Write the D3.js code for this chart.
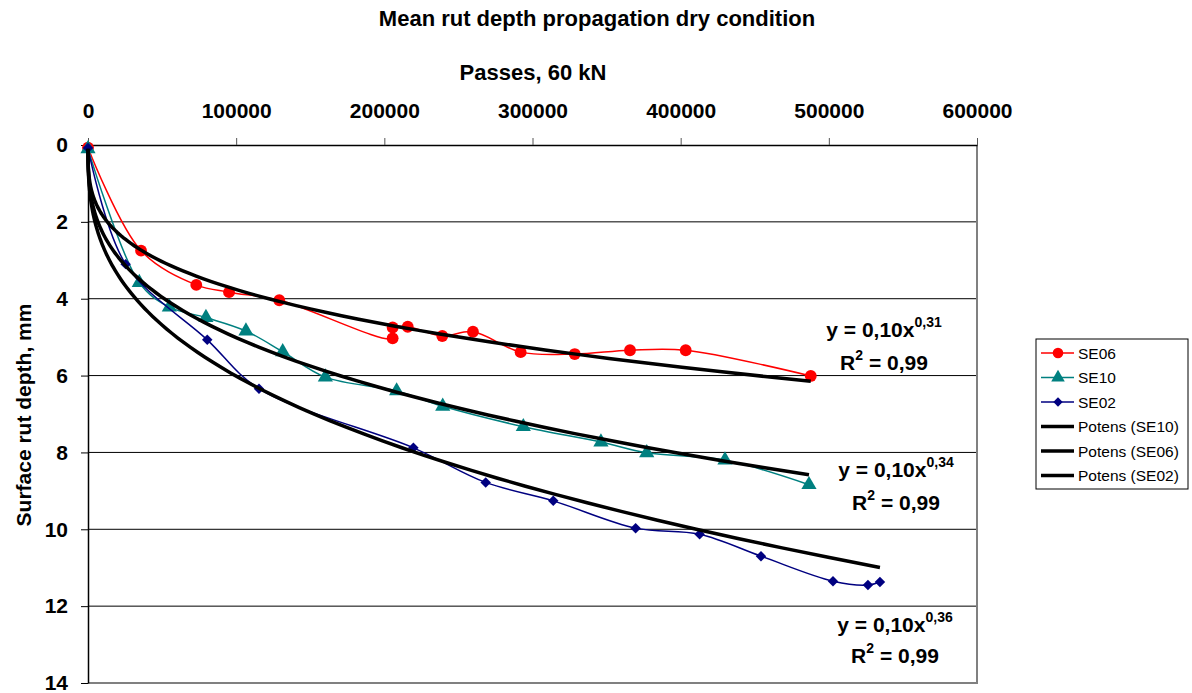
<!DOCTYPE html>
<html>
<head>
<meta charset="utf-8">
<script src="https://cdn.jsdelivr.net/npm/d3@7"></script>
<style>
  body { margin: 0; background: #fff; }
  text { font-family: "Liberation Sans", Arial, sans-serif; }
</style>
</head>
<body>
<div id="chart"></div>
<script>
// series (passes, rut depth mm)
const se06X = [0, 35800, 73100, 95200, 129100, 205600, 205600, 215800, 239100, 259800, 292000, 328500, 365800, 403400, 487800];
const se06Y = [0.07, 2.75, 3.64, 3.83, 4.04, 5.03, 4.75, 4.73, 4.97, 4.86, 5.39, 5.44, 5.34, 5.34, 6.01];

const se10X = [0, 34600, 54900, 79600, 106600, 131400, 160200, 208300, 239400, 293800, 346200, 377100, 429900, 486600];
const se10Y = [0.1, 3.58, 4.22, 4.49, 4.84, 5.38, 6.04, 6.40, 6.80, 7.33, 7.73, 8.01, 8.20, 8.84];

const se02X = [0, 25400, 80500, 115400, 219600, 268400, 314000, 369600, 412800, 454200, 502800, 526400, 534500];
const se02Y = [0.08, 3.10, 5.07, 6.34, 7.88, 8.78, 9.26, 9.97, 10.13, 10.70, 11.35, 11.45, 11.37];

// power trend lines y = a * x^b
const trendNames = ["Potens (SE10)", "Potens (SE06)", "Potens (SE02)"];
const trendA = [0.100, 0.106, 0.0953];
const trendB = [0.34, 0.31, 0.36];
const trendEnd = [486600, 487800, 534500];

const eqTexts = ["0,31", "0,34", "0,36"];
const r2Text = "0,99";

const xTicks = [0, 100000, 200000, 300000, 400000, 500000, 600000];
const yTicks = [0, 2, 4, 6, 8, 10, 12, 14];

const W = 1192, H = 693;
const plot = { left: 88, top: 145, right: 977, bottom: 683 };

const svg = d3.select("#chart").append("svg")
    .attr("width", W)
    .attr("height", H);

const x = d3.scaleLinear().domain([0, 600000]).range([plot.left, plot.right]);
const y = d3.scaleLinear().domain([0, 14]).range([plot.top, plot.bottom]);

// gridlines
svg.append("g")
    .selectAll("line")
    .data(yTicks.slice(1, -1))
    .enter().append("line")
    .attr("x1", plot.left).attr("x2", plot.right)
    .attr("y1", d => y(d)).attr("y2", d => y(d))
    .attr("stroke", "#000").attr("stroke-width", 1);

// right / bottom border (grey)
svg.append("path")
    .attr("d", `M${plot.right},${plot.top}V${plot.bottom}H${plot.left}`)
    .attr("fill", "none")
    .attr("stroke", "#808080")
    .attr("stroke-width", 2);

// axes
const xAxis = svg.append("g")
    .attr("transform", `translate(0,${plot.top})`)
    .call(d3.axisTop(x).tickValues(xTicks).tickFormat(d3.format("d")).tickSize(7).tickPadding(20).tickSizeOuter(0));
xAxis.select(".domain").attr("stroke", "#000").attr("stroke-width", 1.5);
xAxis.selectAll(".tick line").attr("stroke", "#555");
xAxis.selectAll("text")
    .style("font-size", "21px").style("font-weight", "bold").attr("fill", "#000");

const yAxis = svg.append("g")
    .attr("transform", `translate(${plot.left},0)`)
    .call(d3.axisLeft(y).tickValues(yTicks).tickSize(7).tickPadding(13).tickSizeOuter(0));
yAxis.select(".domain").attr("stroke", "#000").attr("stroke-width", 1.5);
yAxis.selectAll(".tick line").attr("stroke", "#000");
yAxis.selectAll("text")
    .style("font-size", "21px").style("font-weight", "bold").attr("fill", "#000");

// titles
svg.append("text")
    .attr("x", 597).attr("y", 26)
    .attr("text-anchor", "middle")
    .style("font-size", "22px").style("font-weight", "bold")
    .text("Mean rut depth propagation dry condition");

svg.append("text")
    .attr("x", 533).attr("y", 80)
    .attr("text-anchor", "middle")
    .style("font-size", "22px").style("font-weight", "bold")
    .text("Passes, 60 kN");

svg.append("text")
    .attr("transform", "translate(31,415) rotate(-90)")
    .attr("text-anchor", "middle")
    .style("font-size", "21px").style("font-weight", "bold")
    .text("Surface rut depth, mm");

// data series
const line = d3.line()
    .x(d => x(d[0]))
    .y(d => y(d[1]))
    .curve(d3.curveCatmullRom.alpha(0.5));

const series = [
    { name: "SE06", xs: se06X, ys: se06Y, color: "#ff0000", symbol: d3.symbolCircle, size: 110, rot: 0 },
    { name: "SE10", xs: se10X, ys: se10Y, color: "#008080", symbol: d3.symbolTriangle, size: 100, rot: 0 },
    { name: "SE02", xs: se02X, ys: se02Y, color: "#000080", symbol: d3.symbolSquare, size: 55, rot: 45 }
];

series.forEach(s => {
    const pts = s.xs.map((v, i) => [v, s.ys[i]]);
    svg.append("path")
        .datum(pts)
        .attr("fill", "none")
        .attr("stroke", s.color)
        .attr("stroke-width", 1.5)
        .attr("d", line);
    svg.append("g")
        .selectAll("path")
        .data(pts)
        .enter().append("path")
        .attr("transform", d => `translate(${x(d[0])},${y(d[1])}) rotate(${s.rot})`)
        .attr("d", d3.symbol().type(s.symbol).size(s.size))
        .attr("fill", s.color);
});

// trend lines
const trendLine = d3.line().x(d => x(d[0])).y(d => y(d[1]));
trendNames.forEach((name, i) => {
    const xs = d3.range(0, 1.0001, 0.005).map(t => Math.pow(trendEnd[i], t));
    const pts = xs.map(v => [v, trendA[i] * Math.pow(v, trendB[i])]);
    svg.append("path")
        .datum(pts)
        .attr("fill", "none")
        .attr("stroke", "#000")
        .attr("stroke-width", 3.5)
        .attr("d", trendLine);
});

// equation labels
const eqPos = [[884, 337, 370], [896, 477, 510], [895, 632, 663]];
eqTexts.forEach((e, i) => {
    const [cx, y1, y2] = eqPos[i];
    const t1 = svg.append("text")
        .attr("x", cx).attr("y", y1)
        .attr("text-anchor", "middle")
        .style("font-size", "21px").style("font-weight", "bold");
    t1.append("tspan").text("y = 0,10x");
    t1.append("tspan").attr("dy", -10).style("font-size", "14px").text(e);
    const t2 = svg.append("text")
        .attr("x", cx).attr("y", y2)
        .attr("text-anchor", "middle")
        .style("font-size", "21px").style("font-weight", "bold");
    t2.append("tspan").text("R");
    t2.append("tspan").attr("dy", -10).style("font-size", "14px").text("2");
    t2.append("tspan").attr("dy", 10).text(" = " + r2Text);
});

// legend
const legendItems = series.map(s => ({ name: s.name, color: s.color, symbol: s.symbol, size: s.size * 0.8, rot: s.rot, w: 1.5 }))
    .concat(trendNames.map(n => ({ name: n, color: "#000", symbol: null, w: 3.5 })));

const legend = svg.append("g").attr("transform", "translate(1036,339)");
legend.append("rect")
    .attr("width", 152).attr("height", 150)
    .attr("fill", "#fff").attr("stroke", "#000").attr("stroke-width", 1);

legendItems.forEach((d, i) => {
    const cy = 14 + i * 24.5;
    legend.append("line")
        .attr("x1", 5).attr("x2", 38)
        .attr("y1", cy).attr("y2", cy)
        .attr("stroke", d.color).attr("stroke-width", d.w);
    if (d.symbol) {
        legend.append("path")
            .attr("transform", `translate(22,${cy}) rotate(${d.rot})`)
            .attr("d", d3.symbol().type(d.symbol).size(d.size))
            .attr("fill", d.color);
    }
    legend.append("text")
        .attr("x", 42).attr("y", cy + 5.5)
        .style("font-size", "15.5px")
        .text(d.name);
});
</script>
</body>
</html>
